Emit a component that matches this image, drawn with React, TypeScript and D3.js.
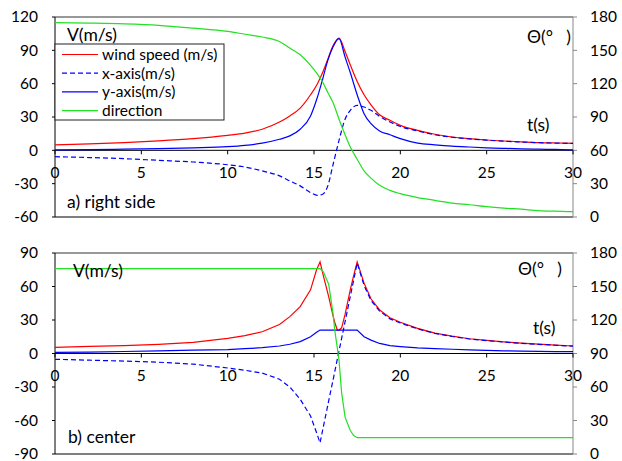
import React from 'react';
import * as d3 from 'd3';

// a) right side
const tRight = [0, 2, 4, 6, 8, 10, 11, 12, 13, 13.6, 14.2, 14.8, 15.2, 15.5, 15.8, 16.1, 16.45, 16.8, 17.1, 17.5, 17.9, 18.3, 18.8, 19.4, 20, 21, 22, 23, 24, 25, 26, 27, 28, 29, 30];
const speedRight = [5, 5.8, 7, 8.5, 10.5, 13.5, 15.5, 19, 25.5, 31, 38, 50, 60, 70, 82, 94, 101, 89, 77, 62, 50, 41, 32, 27, 22.5, 18, 14.5, 12, 10.5, 9.3, 8.4, 7.7, 7, 6.6, 6.3];
const xAxisRight = [-5.7, -6.5, -7.5, -9, -10.5, -13, -15, -18.5, -23, -27.5, -32, -38, -40.5, -39.5, -32, -13, 9, 28, 36, 40.5, 39, 36, 30.5, 25.5, 21.5, 17.5, 14, 11.8, 10.3, 9.1, 8.2, 7.5, 6.9, 6.5, 6.2];
const yAxisRight = [0.5, 0.7, 1, 1.5, 2.2, 3.3, 4.5, 6.5, 10, 13, 19, 31, 48, 64, 81, 93, 100.5, 84, 70, 50, 33, 24, 17.5, 14, 10.5, 6.5, 5, 3.8, 3, 2.3, 1.8, 1.3, 1, 0.8, 0.5];
const dirRight = [175, 174.5, 173.8, 172.5, 170, 167, 164.5, 162, 158, 152, 146, 136.5, 128.5, 121.5, 112, 103, 88, 74, 63, 52, 41.5, 35, 28.5, 24, 21, 17.5, 15, 12.5, 11, 9.3, 8, 7, 5.8, 5.2, 4.8];

// b) center
const tCenter = [0, 2, 4, 6, 8, 10, 11, 12, 13, 13.6, 14.2, 14.8, 15.15, 15.35, 15.55, 15.85, 16.1, 16.2, 16.35, 16.45, 16.6, 16.8, 17.1, 17.3, 17.5, 17.9, 18.3, 18.8, 19.4, 20, 21, 22, 23, 24, 25, 26, 27, 28, 29, 30];
const speedCenter = [5.5, 6.3, 7, 8.2, 10, 13.5, 16, 19.5, 26, 33, 42, 57, 75, 82, 69, 51, 34, 28, 21, 21, 23, 35, 57, 70, 82, 63, 49, 39, 32, 28, 22.5, 18.3, 15.5, 13.2, 11.8, 10.4, 9.3, 8.4, 7.5, 6.7];
const xAxisCenter = [-5.2, -6, -6.8, -7.8, -9.5, -13, -15, -17.5, -23, -30, -41, -56, -71, -80, -65, -42.5, -24, -16.5, -5, 2.4, 13.5, 28.5, 51, 66, 81, 61, 47.5, 38, 31, 27.3, 22, 18, 15.2, 13, 11.6, 10.2, 9.1, 8.2, 7.4, 6.6];
const yAxisCenter = [1, 1.3, 1.8, 2.3, 3, 3.5, 4.3, 5.2, 6.7, 8.3, 10.6, 15, 19, 21, 21, 21, 21, 21, 21, 21, 21, 21, 21, 21, 21, 15, 12, 9, 7, 6.2, 5, 4.3, 3.8, 3.3, 2.8, 2.4, 2.1, 1.9, 1.7, 1.6];
const dirCenter = [166, 166, 166, 166, 166, 166, 166, 166, 166, 166, 166, 166, 166, 166, 163, 152, 126, 111, 95, 84, 55, 33, 21, 16.5, 14.6, 14.6, 14.6, 14.6, 14.6, 14.6, 14.6, 14.6, 14.6, 14.6, 14.6, 14.6, 14.6, 14.6, 14.6, 14.6];

const timeTicks = [0, 5, 10, 15, 20, 25, 30];
const dirTicks = [0, 30, 60, 90, 120, 150, 180];
const speedTicksRight = [-60, -30, 0, 30, 60, 90, 120];
const speedTicksCenter = [-90, -60, -30, 0, 30, 60, 90];
const legendNames = ['wind speed (m/s)', 'x-axis(m/s)', 'y-axis(m/s)', 'direction'];

const FONT = 'Lato, "Open Sans", sans-serif';
const RED = '#ff0000';
const BLUE = '#0000ff';
const GREEN = '#22e022';
const left = 55;
const right = 573;

const x = d3.scaleLinear().domain([0, 30]).range([left, right]);

function Panel(props) {
  const { top, bottom, vDomain, vTicks, t, speed, xs, ys, dir, curve, name, nameY, vPos, thetaPos, tPos, legend } = props;
  const y = d3.scaleLinear().domain(vDomain).range([bottom, top]);
  const y2 = d3.scaleLinear().domain([0, 180]).range([bottom, top]);
  const path = (vals, sc) =>
    d3.line().x((_, i) => x(t[i])).y(d => sc(d)).curve(curve)(vals);
  const zero = y(0);

  const legendItems = [
    { color: RED, dash: null },
    { color: BLUE, dash: '5,3' },
    { color: BLUE, dash: null },
    { color: GREEN, dash: null },
  ];

  return (
    <g fontFamily={FONT}>
      {/* frame */}
      <line x1={left} x2={right} y1={top} y2={top} stroke="#333" />
      <line x1={left} x2={right} y1={bottom} y2={bottom} stroke="#000" />
      <line x1={left} x2={left} y1={top} y2={bottom} stroke="#000" />
      <line x1={right} x2={right} y1={top} y2={bottom} stroke="#888" />

      {/* left axis */}
      {vTicks.map(v => (
        <g key={'l' + v}>
          <line x1={left - 3} x2={left} y1={y(v)} y2={y(v)} stroke="#000" />
          <text x={38} y={y(v)} dy="0.35em" textAnchor="end" fontSize={15.5}>{v}</text>
        </g>
      ))}

      {/* right axis */}
      {dirTicks.map(v => (
        <g key={'r' + v}>
          <line x1={right} x2={right + 4} y1={y2(v)} y2={y2(v)} stroke="#888" />
          <text x={590} y={y2(v)} dy="0.35em" fontSize={15.5}>{v}</text>
        </g>
      ))}

      {/* time axis at zero */}
      <line x1={left} x2={right} y1={zero} y2={zero} stroke="#000" />
      {timeTicks.map(v => (
        <g key={'t' + v}>
          <line x1={x(v)} x2={x(v)} y1={zero} y2={zero + 4} stroke="#000" />
          <text x={x(v)} y={zero + 22} dy="0.35em" textAnchor="middle" fontSize={15.5}>{v}</text>
        </g>
      ))}

      {/* series */}
      <path d={path(speed, y)} fill="none" stroke={RED} strokeWidth={1.2} />
      <path d={path(xs, y)} fill="none" stroke={BLUE} strokeWidth={1.2} strokeDasharray="5,3" />
      <path d={path(ys, y)} fill="none" stroke={BLUE} strokeWidth={1.2} />
      <path d={path(dir, y2)} fill="none" stroke={GREEN} strokeWidth={1.2} />

      {/* labels */}
      <text x={vPos[0]} y={vPos[1]} dy="0.35em" fontSize={17.5}>V(m/s)</text>
      <text x={thetaPos[0]} y={thetaPos[1]} dy="0.35em" fontSize={17.5} style={{ whiteSpace: 'pre' }}>{'Θ(°   )'}</text>
      <text x={tPos[0]} y={tPos[1]} dy="0.35em" fontSize={17.5}>t(s)</text>
      <text x={nameY[0]} y={nameY[1]} dy="0.35em" fontSize={17.5}>{name}</text>

      {legend && (
        <g>
          <rect x={55} y={44} width={169} height={76} fill="#fff" stroke="#222" />
          {legendNames.map((n, i) => {
            const ly = 54.5 + i * 18.7;
            const it = legendItems[i];
            return (
              <g key={n}>
                <line x1={62} x2={98} y1={ly} y2={ly} stroke={it.color} strokeWidth={1.2} strokeDasharray={it.dash || undefined} />
                <text x={102} y={ly} dy="0.35em" fontSize={15.5}>{n}</text>
              </g>
            );
          })}
        </g>
      )}
    </g>
  );
}

export default function App() {
  return (
    <svg width={622} height={461} style={{ position: 'absolute', left: 0, top: 0, background: '#fff' }}>
      <Panel
        top={17} bottom={217} vDomain={[-60, 120]} vTicks={speedTicksRight}
        t={tRight} speed={speedRight} xs={xAxisRight} ys={yAxisRight} dir={dirRight}
        curve={d3.curveMonotoneX}
        name="a) right side" nameY={[67, 202]}
        vPos={[67, 35]} thetaPos={[527, 37]} tPos={[527, 125]}
        legend
      />
      <Panel
        top={253} bottom={454} vDomain={[-90, 90]} vTicks={speedTicksCenter}
        t={tCenter} speed={speedCenter} xs={xAxisCenter} ys={yAxisCenter} dir={dirCenter}
        curve={d3.curveLinear}
        name="b) center" nameY={[68, 437]}
        vPos={[73, 271]} thetaPos={[518, 269]} tPos={[533, 328]}
        legend={false}
      />
    </svg>
  );
}
